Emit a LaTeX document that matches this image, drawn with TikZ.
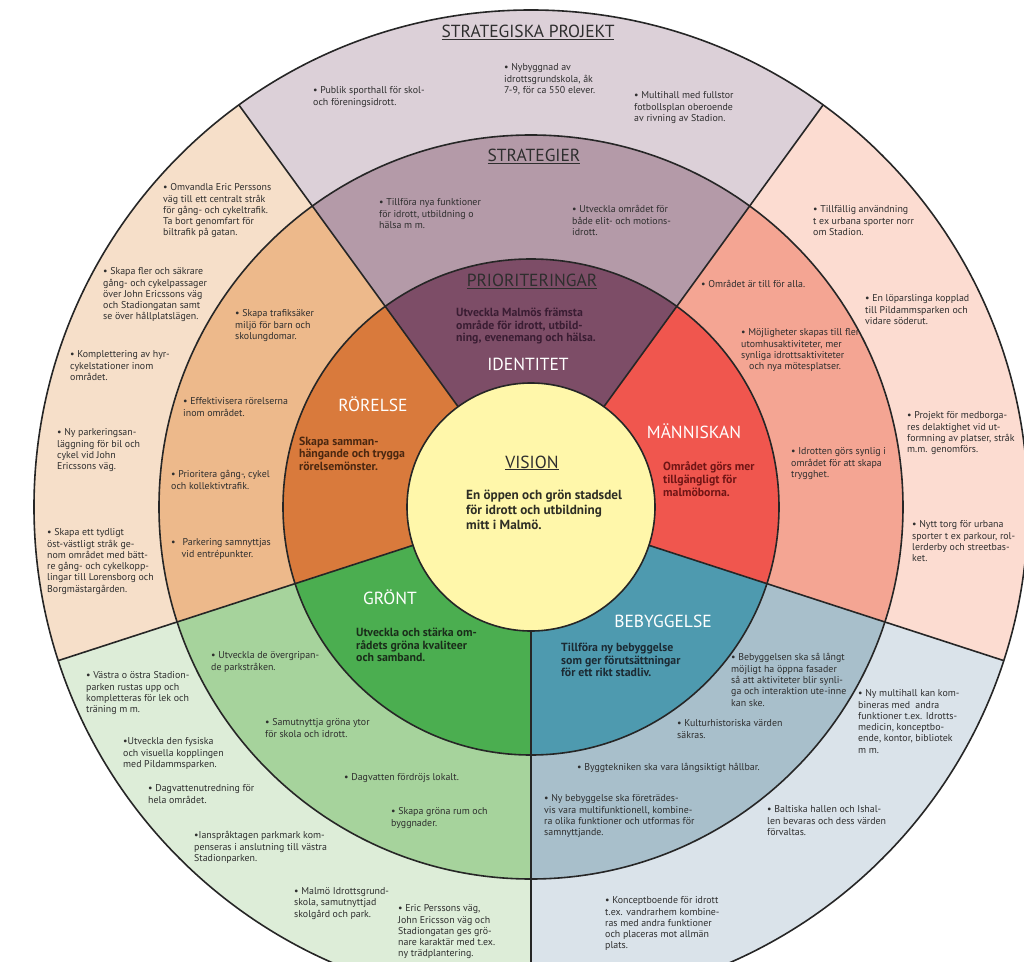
\documentclass[tikz,border=0pt]{standalone}
\usepackage{fontspec}
\setmainfont{PT Sans}
\usepackage{xcolor}
\usepackage{tikz}
\definecolor{visionYellow}{HTML}{FFF7AA}
\definecolor{idInner}{HTML}{7D4D67}
\definecolor{idMid}{HTML}{B49AA8}
\definecolor{idOuter}{HTML}{DCD0D8}
\definecolor{roInner}{HTML}{D97A3C}
\definecolor{roMid}{HTML}{EDB98B}
\definecolor{roOuter}{HTML}{F6DFC9}
\definecolor{maInner}{HTML}{F0564E}
\definecolor{maMid}{HTML}{F4A593}
\definecolor{maOuter}{HTML}{FCDCD1}
\definecolor{beInner}{HTML}{4E9AAF}
\definecolor{beMid}{HTML}{A8BFCB}
\definecolor{beOuter}{HTML}{DAE3EA}
\definecolor{grInner}{HTML}{4BAE50}
\definecolor{grMid}{HTML}{A6D39C}
\definecolor{grOuter}{HTML}{DDEDD8}
\definecolor{lineDark}{HTML}{262626}
\definecolor{txtDark}{HTML}{2E2E2E}
\definecolor{idText}{HTML}{3A1D33}
\definecolor{roText}{HTML}{4A2710}
\definecolor{maText}{HTML}{701515}
\definecolor{beText}{HTML}{1C2A33}
\definecolor{grText}{HTML}{1A2D1A}
\definecolor{visText}{HTML}{2E2E25}

\begin{document}
\begin{tikzpicture}[
    x=1pt, y=1pt,
    ring/.style={draw=lineDark, line width=1.6pt},
    bullet/.style={font=\fontsize{9.9}{11.3}\selectfont, text=txtDark,
                   align=left, anchor=north west, inner sep=0pt},
    aim/.style={font=\bfseries\fontsize{11.8}{12.8}\selectfont, text=#1,
                align=left, anchor=north west, inner sep=0pt},
    aim/.default=txtDark,
    sector/.style={font=\fontsize{17.5}{20}\selectfont, text=white,
                   anchor=base, inner sep=0pt},
    level/.style={font=\fontsize{17.5}{20}\selectfont, text=txtDark,
                  anchor=base, inner sep=0pt}
]
    \clip (-531,-454) rectangle (493,507);
    \fill[white] (-531,-454) rectangle (493,507);

    % --- Rings, one wedge per sector ---
    \fill[idOuter] (0,0) -- (54:497) arc[start angle=54, end angle=126, radius=497] -- cycle;
    \fill[idMid] (0,0) -- (54:372) arc[start angle=54, end angle=126, radius=372] -- cycle;
    \fill[idInner] (0,0) -- (54:248) arc[start angle=54, end angle=126, radius=248] -- cycle;
    \fill[roOuter] (0,0) -- (126:497) arc[start angle=126, end angle=198, radius=497] -- cycle;
    \fill[roMid] (0,0) -- (126:372) arc[start angle=126, end angle=198, radius=372] -- cycle;
    \fill[roInner] (0,0) -- (126:248) arc[start angle=126, end angle=198, radius=248] -- cycle;
    \fill[grOuter] (0,0) -- (198:497) arc[start angle=198, end angle=270, radius=497] -- cycle;
    \fill[grMid] (0,0) -- (198:372) arc[start angle=198, end angle=270, radius=372] -- cycle;
    \fill[grInner] (0,0) -- (198:248) arc[start angle=198, end angle=270, radius=248] -- cycle;
    \fill[beOuter] (0,0) -- (270:497) arc[start angle=270, end angle=342, radius=497] -- cycle;
    \fill[beMid] (0,0) -- (270:372) arc[start angle=270, end angle=342, radius=372] -- cycle;
    \fill[beInner] (0,0) -- (270:248) arc[start angle=270, end angle=342, radius=248] -- cycle;
    \fill[maOuter] (0,0) -- (-18:497) arc[start angle=-18, end angle=54, radius=497] -- cycle;
    \fill[maMid] (0,0) -- (-18:372) arc[start angle=-18, end angle=54, radius=372] -- cycle;
    \fill[maInner] (0,0) -- (-18:248) arc[start angle=-18, end angle=54, radius=248] -- cycle;
    \fill[visionYellow] (0,0) circle[radius=124];

    \draw[ring] (0,0) circle[radius=124];
    \draw[ring] (0,0) circle[radius=248];
    \draw[ring] (0,0) circle[radius=372];
    \draw[ring] (0,0) circle[radius=497];
    \draw[ring] (54:124) -- (54:497);
    \draw[ring] (126:124) -- (126:497);
    \draw[ring] (198:124) -- (198:497);
    \draw[ring] (270:124) -- (270:497);
    \draw[ring] (342:124) -- (342:497);

    % --- Levels ---
    \node[level] (projekt) at (-3, 469) {\underline{STRATEGISKA PROJEKT}};
    \node[level] (strategier) at (3, 345.5) {\underline{STRATEGIER}};
    \node[level] (prio) at (1, 220.5) {\underline{PRIORITERINGAR}};
    \node[level] (vision) at (1, 39) {\underline{VISION}};
    \node[font=\bfseries\fontsize{13.2}{15}\selectfont, text=visText, align=left,
          anchor=north west, inner sep=0pt] (visionText) at (-65, 17.5)
          {En öppen och grön stadsdel\\för idrott och utbildning\\mitt i Malmö.};

    % --- Identitet ---
    \node[sector] (identitet) at (-3, 136.5) {IDENTITET};
    \node[aim=idText] (idAim) at (-75, 199.5)
          {Utveckla Malmös främsta\\område för idrott, utbild-\\ning, evenemang och hälsa.};
    \node[bullet] (idS1) at (-152, 308.5) {• Tillföra nya funktioner\\för idrott, utbildning o\\hälsa m m.};
    \node[bullet] (idS2) at (41, 301.5) {• Utveckla området för\\både elit- och motions-\\idrott.};
    \node[bullet] (idP1) at (-218, 420.5) {• Publik sporthall för skol-\\och föreningsidrott.};
    \node[bullet] (idP2) at (-27, 443.5) {• Nybyggnad av\\idrottsgrundskola, åk\\7-9, för ca 550 elever.};
    \node[bullet] (idP3) at (103, 415.5) {• Multihall med fullstor\\fotbollsplan oberoende\\av rivning av Stadion.};

    % --- Rörelse ---
    \node[sector] (rorelse) at (-158, 95.5) {RÖRELSE};
    \node[aim=roText] (roAim) at (-232, 70.5)
          {Skapa samman-\\hängande och trygga\\rörelsemönster.};
    \node[bullet] (roS1) at (-296, 197.5) {• Skapa trafiksäker\\miljö för barn och\\skolungdomar.};
    \node[bullet] (roS2) at (-348, 109.5) {• Effektivisera rörelserna\\inom området.};
    \node[bullet] (roS3) at (-360, 36.5) {• Prioritera gång-, cykel\\och kollektivtrafik.};
    \node[bullet] (roS4) at (-360, -31.5) {•\hspace*{7pt}Parkering samnyttjas\\\hspace*{10.5pt}vid entrépunkter.};
    \node[bullet] (roP1) at (-368, 323.5) {• Omvandla Eric Perssons\\väg till ett centralt stråk\\för gång- och cykeltrafik.\\Ta bort genomfart för\\biltrafik på gatan.};
    \node[bullet] (roP2) at (-428, 239.5) {• Skapa fler och säkrare\\gång- och cykelpassager\\över John Ericssons väg\\och Stadiongatan samt\\se över hållplatslägen.};
    \node[bullet] (roP3) at (-461, 156.5) {• Komplettering av hyr-\\cykelstationer inom\\området.};
    \node[bullet] (roP4) at (-474, 78.5) {• Ny parkeringsan-\\läggning för bil och\\cykel vid John\\Ericssons väg.};
    \node[bullet] (roP5) at (-484, -21.5) {• Skapa ett tydligt\\öst-västligt stråk ge-\\nom området med bätt-\\re gång- och cykelkopp-\\lingar till Lorensborg och\\Borgmästargården.};

    % --- Människan ---
    \node[sector] (manniskan) at (163, 68.5) {MÄNNISKAN};
    \node[aim=maText] (maAim) at (132, 45.5)
          {Området görs mer\\tillgängligt för\\malmöborna.};
    \node[bullet] (maS1) at (170, 226.5) {• Området är till för alla.};
    \node[bullet] (maS2) at (210, 178.5) {• Möjligheter skapas till fler\\utomhusaktiviteter, mer\\synliga idrottsaktiviteter\\\hspace*{8pt}och nya mötesplatser.};
    \node[bullet] (maS3) at (260, 59.5) {• Idrotten görs synlig i\\området för att skapa\\trygghet.};
    \node[bullet] (maP1) at (282, 301.5) {• Tillfällig användning\\t ex urbana sporter norr\\om Stadion.};
    \node[bullet] (maP2) at (334, 212.5) {• En löparslinga kopplad\\till Pildammsparken och\\vidare söderut.};
    \node[bullet] (maP3) at (376, 95.5) {• Projekt för medborga-\\res delaktighet vid ut-\\formning av platser, stråk\\m.m. genomförs.};
    \node[bullet] (maP4) at (381, -13.5) {• Nytt torg för urbana\\sporter t ex parkour, rol-\\lerderby och streetbas-\\ket.};

    % --- Bebyggelse ---
    \node[sector] (bebyggelse) at (132, -120.5) {BEBYGGELSE};
    \node[aim=beText] (beAim) at (30, -135.5)
          {Tillföra ny bebyggelse\\som ger förutsättningar\\för ett rikt stadliv.};
    \node[bullet] (beS1) at (200, -146.5) {• Bebyggelsen ska så långt\\möjligt ha öppna fasader\\så att aktiviteter blir synli-\\ga och interaktion ute-inne\\kan ske.};
    \node[bullet] (beS2) at (146, -212.5) {• Kulturhistoriska värden\\säkras.};
    \node[bullet] (beS3) at (46, -256.5) {• Byggtekniken ska vara långsiktigt hållbar.};
    \node[bullet] (beS4) at (13, -287.5) {• Ny bebyggelse ska företrädes-\\vis vara multifunktionell, kombine-\\ra olika funktioner och utformas för\\samnyttjande.};
    \node[bullet] (beP1) at (327, -182.5) {• Ny multihall kan kom-\\bineras med\ \ andra\\funktioner t.ex. Idrotts-\\medicin, konceptbo-\\ende, kontor, bibliotek\\m m.};
    \node[bullet] (beP2) at (236, -298.5) {• Baltiska hallen och Ishal-\\len bevaras och dess värden\\förvaltas.};
    \node[bullet] (beP3) at (74, -389.5) {• Konceptboende för idrott\\t.ex. vandrarhem kombine-\\ras med andra funktioner\\och placeras mot allmän\\plats.};

    % --- Grönt ---
    \node[sector] (gront) at (-141, -97.5) {GRÖNT};
    \node[aim=grText] (grAim) at (-175, -120.5)
          {Utveckla och stärka om-\\rådets gröna kvaliteer\\och samband.};
    \node[bullet] (grS1) at (-320, -144.5) {• Utveckla de övergripan-\\de parkstråken.};
    \node[bullet] (grS2) at (-266, -211.5) {• Samutnyttja gröna ytor\\för skola och idrott.};
    \node[bullet] (grS3) at (-187, -266.5) {• Dagvatten fördröjs lokalt.};
    \node[bullet] (grS4) at (-140, -300.5) {• Skapa gröna rum och\\byggnader.};
    \node[bullet] (grP1) at (-445, -164.5) {• Västra o östra Stadion-\\parken rustas upp och\\kompletteras för lek och\\träning m m.};
    \node[bullet] (grP2) at (-408, -230.5) {•Utveckla den fysiska\\och visuella kopplingen\\med Pildammsparken.};
    \node[bullet] (grP3) at (-383, -277.5) {• Dagvattenutredning för\\hela området.};
    \node[bullet] (grP4) at (-337, -324.5) {•Ianspråktagen parkmark kom-\\penseras i anslutning till västra\\Stadionparken.};
    \node[bullet] (grP5) at (-237, -380.5) {• Malmö Idrottsgrund-\\skola, samutnyttjad\\skolgård och park.};
    \node[bullet] (grP6) at (-133, -397.5) {• Eric Perssons väg,\\John Ericsson väg och\\Stadiongatan ges grö-\\nare karaktär med t.ex.\\ny trädplantering.};
\end{tikzpicture}
\end{document}
